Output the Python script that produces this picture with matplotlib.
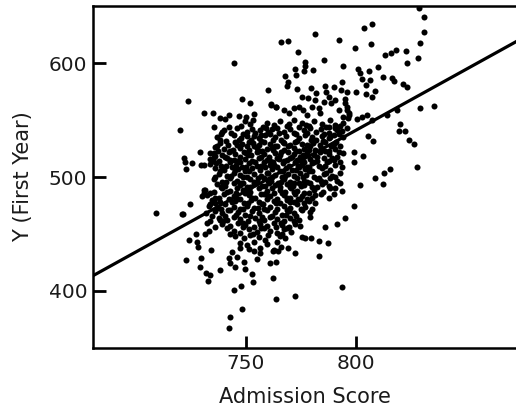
import matplotlib
matplotlib.use("Agg")
import matplotlib.pyplot as plt
import numpy as np

# 바깥쪽(드문) 점들 - (Admission Score, First Year)
outer_pts = [
    (829.0, 648.5), (831.2, 640.5), (831.2, 627.6), (829.4, 617.6), (828.2, 605.0), (823.0, 611.0),
    (823.2, 600.0), (818.3, 611.7), (816.1, 608.8), (813.6, 607.3), (804.0, 631.4), (807.7, 634.3),
    (807.0, 616.7), (799.7, 613.8), (792.3, 620.8), (781.7, 625.5), (769.2, 620.0), (766.0, 618.5),
    (773.6, 609.7), (744.8, 600.6), (785.5, 603.2), (794.2, 598.0), (800.9, 595.0), (806.2, 593.5),
    (810.4, 597.0), (776.8, 601.2), (777.0, 597.4), (776.4, 593.0), (772.6, 594.7), (772.9, 589.7),
    (780.5, 594.0), (768.0, 589.0), (801.8, 591.7), (802.9, 586.2), (806.8, 585.3), (812.4, 587.7),
    (816.8, 586.8), (817.3, 584.8), (821.4, 581.8), (823.3, 578.9), (769.4, 584.0), (768.8, 580.0),
    (773.5, 577.7), (779.7, 578.6), (786.2, 580.0), (786.5, 575.0), (790.0, 578.9), (793.3, 576.5),
    (793.8, 583.6), (796.1, 575.0), (800.2, 575.0), (804.7, 573.3), (809.0, 575.7), (807.4, 570.7),
    (804.9, 580.9), (760.0, 577.0), (835.6, 562.5), (829.1, 560.4), (818.8, 559.0), (814.2, 554.5),
    (723.8, 566.6), (748.3, 568.3), (751.8, 565.0), (761.4, 563.8), (763.9, 561.7),
    (795.2, 568.6), (796.0, 561.3), (797.1, 556.6), (796.7, 551.6), (794.5, 553.0), (793.0, 545.0),
    (793.8, 540.5), (790.8, 542.8), (787.7, 544.3), (788.5, 535.5), (805.3, 555.0), (802.9, 552.5),
    (807.4, 550.0), (800.6, 550.7), (805.6, 536.0), (807.9, 532.0), (820.3, 546.6), (819.9, 540.5),
    (822.6, 540.8), (824.5, 532.6), (826.7, 529.0), (828.0, 509.0), (815.9, 507.0), (812.9, 503.2),
    (812.4, 493.5), (808.8, 498.8), (803.6, 518.5), (799.4, 522.3), (799.4, 512.9), (802.1, 493.0),
    (799.1, 474.8), (795.3, 464.2), (791.5, 458.6), (793.8, 403.2),
    (786.2, 455.7), (783.2, 444.0), (787.3, 441.6), (783.2, 430.5), (779.7, 446.0), (777.1, 446.1),
    (775.6, 446.9), (772.6, 432.8), (772.3, 395.3), (769.2, 437.8), (766.2, 438.7), (764.7, 435.2),
    (762.5, 435.2), (763.9, 424.9), (760.9, 424.0), (762.3, 411.4), (763.9, 393.0), (756.4, 432.8),
    (755.2, 428.2), (752.9, 415.0), (753.3, 407.9), (747.9, 404.1), (744.5, 400.3), (748.2, 383.6),
    (742.7, 377.3), (742.3, 366.9), (747.3, 437.2), (746.2, 429.3), (749.1, 425.5), (749.5, 418.8),
    (745.2, 421.0), (742.4, 428.4), (742.7, 424.0), (744.0, 434.0),
    (738.5, 418.2), (734.2, 435.8), (733.6, 413.5), (732.7, 408.5), (731.8, 415.2), (729.4, 421.1),
    (729.8, 428.4), (728.2, 438.1), (728.0, 442.8), (727.6, 449.6), (724.2, 444.6), (722.7, 426.7),
    (731.7, 449.6), (733.3, 452.5), (732.4, 459.3), (733.9, 461.6), (709.1, 468.6), (721.0, 467.2),
    (721.5, 467.5), (724.8, 476.5), (720.3, 541.3), (721.8, 516.4), (722.3, 513.5), (723.0, 507.0),
    (725.6, 512.0), (729.1, 522.3), (731.2, 556.0), (735.0, 556.6), (731.7, 488.6), (730.2, 483.6),
    (731.2, 510.6), (733.9, 511.1), (735.9, 518.8), (735.5, 544.3), (738.5, 551.6), (740.6, 550.7),
    (742.4, 554.5), (746.8, 553.7), (750.2, 552.5), (753.9, 555.4),
]

# 위쪽 중간 영역
upper_pts = [
    (761.5, 563.9), (763.9, 561.9), (767.6, 558.9), (769.5, 556.6), (771.8, 560.4), (774.1, 561.9),
    (776.1, 558.9), (777.9, 554.5), (780.2, 561.9), (781.7, 567.7), (783.2, 560.4), (783.9, 556.0),
    (785.8, 566.3), (787.7, 570.7), (788.8, 564.8), (790.8, 567.7), (792.3, 558.9), (795.3, 564.8),
    (796.1, 558.9), (796.8, 554.5), (778.2, 569.2), (775.6, 570.7), (782.1, 574.2),
    (739.2, 539.9), (738.5, 532.6), (736.2, 526.7), (733.6, 521.4), (735.5, 517.9), (729.8, 510.6),
    (730.9, 485.6), (733.6, 476.2), (732.1, 468.0), (734.7, 465.7), (736.2, 456.3), (738.5, 462.2),
]

# 가운데 빽빽한 영역
core_pts = [
    (749.5, 549), (751.8, 547), (753.3, 550), (759.7, 548), (762.7, 546), (765.5, 549), (769.5, 547),
    (772.1, 550), (775.6, 548), (777.6, 546), (780.9, 549), (784.7, 547), (788.5, 550), (790.5, 546),
    (794.2, 548),
    (740.3, 541), (746.1, 543), (750.6, 540), (752.9, 542), (754.1, 539), (756.4, 541), (759.2, 543),
    (760.2, 540), (762.0, 542), (767.3, 540), (770.0, 542), (771.8, 539), (776.4, 541), (779.4, 543),
    (782.1, 540), (784.2, 542), (787.7, 539), (791.5, 541), (796.1, 543),
    (737.0, 535), (744.5, 537), (748.0, 534), (750.6, 536), (752.4, 533), (753.6, 536), (755.9, 534),
    (758.9, 537), (763.5, 535), (766.1, 533), (768.5, 536), (774.1, 534), (777.1, 537), (780.2, 535),
    (782.0, 533), (784.7, 536), (787.7, 534), (790.0, 537), (794.5, 535),
    (738.5, 530), (741.8, 528), (745.0, 531), (748.3, 529), (750.6, 527), (753.2, 530), (755.9, 528),
    (758.2, 531), (760.9, 529), (763.5, 527), (767.6, 530), (770.3, 528), (772.6, 531), (775.6, 529),
    (778.6, 527), (780.5, 530), (783.9, 528), (786.2, 531), (790.0, 529), (793.0, 527),
    (740.0, 525), (743.0, 523), (747.6, 526), (751.4, 524), (755.2, 526), (757.4, 523), (759.7, 525),
    (764.2, 527), (767.3, 524), (771.8, 526), (774.1, 523), (776.7, 525), (779.4, 527), (781.7, 524),
    (784.2, 526), (787.7, 523), (790.8, 525),
    (735.5, 521), (739.2, 519), (742.3, 522), (745.3, 520), (747.6, 518), (750.3, 521), (752.4, 519),
    (755.2, 522), (758.2, 520), (760.5, 518), (763.5, 521), (765.8, 519), (769.1, 522), (771.8, 520),
    (774.8, 518), (777.9, 521), (780.9, 519), (783.9, 522), (787.7, 520), (791.5, 518), (794.5, 521),
    (733.9, 516), (737.7, 514), (741.5, 517), (744.5, 515), (747.3, 513), (749.8, 516), (752.9, 514),
    (755.9, 517), (759.7, 515), (762.4, 513), (765.0, 516), (767.6, 514), (770.3, 517), (773.3, 515),
    (776.4, 513), (779.1, 516), (782.4, 514), (785.5, 517), (790.0, 515), (793.0, 513),
    (736.7, 512), (738.8, 510), (743.0, 513), (745.8, 511), (748.3, 509), (751.4, 512), (755.2, 510),
    (758.2, 513), (761.2, 511), (764.2, 509), (767.0, 512), (769.5, 510), (772.6, 513), (775.6, 511),
    (777.9, 509), (780.2, 512), (783.2, 510), (787.0, 513), (790.5, 511), (793.8, 509),
    (736.2, 508), (740.0, 506), (743.8, 509), (746.4, 507), (749.8, 505), (752.9, 508), (756.7, 506),
    (758.9, 509), (762.0, 507), (765.5, 505), (768.5, 508), (771.1, 506), (774.1, 509), (777.1, 507),
    (780.2, 505), (784.7, 508), (788.5, 506),
    (737.7, 503), (741.5, 501), (744.5, 504), (747.6, 502), (750.6, 500), (753.6, 503), (757.0, 501),
    (759.7, 504), (763.5, 502), (766.5, 500), (769.1, 503), (771.8, 501), (774.8, 504), (777.6, 502),
    (780.9, 500), (785.5, 503), (789.2, 501), (793.0, 504),
    (735.5, 498), (739.2, 496), (743.0, 499), (746.1, 497), (748.8, 495), (751.8, 498), (755.2, 496),
    (758.2, 499), (761.5, 497), (764.5, 495), (767.3, 498), (770.3, 496), (773.3, 499), (776.4, 497),
    (779.4, 495), (782.4, 498), (786.2, 496), (788.5, 499), (791.5, 497),
    (737.0, 494), (740.8, 492), (744.5, 495), (747.6, 493), (750.6, 491), (753.6, 494), (757.4, 492),
    (760.5, 495), (763.5, 493), (765.8, 491), (768.8, 494), (771.5, 492), (774.1, 495), (776.7, 493),
    (780.2, 491), (784.7, 494), (787.7, 492), (793.0, 495),
    (730.9, 489), (735.5, 487), (739.2, 490), (743.0, 488), (745.8, 486), (748.8, 489), (752.1, 487),
    (755.9, 490), (759.7, 488), (762.7, 486), (765.5, 489), (768.0, 487), (770.6, 490), (773.3, 488),
    (776.4, 486), (780.9, 489), (785.2, 487), (788.5, 490), (793.8, 488),
    (732.4, 484), (736.2, 482), (740.0, 485), (744.5, 483), (747.6, 481), (751.4, 484), (754.4, 482),
    (758.2, 485), (761.2, 483), (764.2, 481), (767.3, 484), (770.3, 482), (772.6, 485), (775.6, 483),
    (777.9, 481), (781.7, 484), (787.7, 482), (790.0, 485),
    (734.7, 480), (738.5, 478), (742.3, 481), (745.3, 479), (749.1, 477), (752.4, 480), (755.9, 478),
    (759.7, 481), (762.7, 479), (765.8, 477), (768.8, 480), (771.8, 478), (774.8, 481), (778.6, 479),
    (781.7, 477),
    (733.2, 475), (737.0, 473), (740.8, 476), (744.5, 474), (747.3, 472), (750.6, 475), (753.6, 473),
    (757.4, 476), (761.2, 474), (764.2, 472), (767.3, 475), (770.3, 473), (773.3, 476), (777.1, 474),
    (780.2, 472),
    (736.2, 470), (739.2, 468), (743.0, 471), (746.4, 469), (749.8, 467), (752.9, 470), (755.9, 468),
    (759.7, 471), (763.5, 469), (766.5, 467), (769.5, 470), (771.8, 468), (775.6, 471), (779.4, 469),
    (737.7, 464), (741.5, 462), (744.5, 465), (747.6, 463), (750.9, 461), (754.4, 464), (758.2, 462),
    (761.2, 465), (764.2, 463), (767.3, 461), (770.3, 464), (774.1, 462), (779.4, 465),
    (739.2, 459), (743.0, 457), (746.4, 460), (749.8, 458), (753.6, 456), (756.7, 459), (759.7, 457),
    (762.7, 460), (766.5, 458), (769.5, 456), (772.6, 459), (774.8, 457),
    (744.5, 453), (747.6, 451), (751.4, 454), (755.2, 452), (758.2, 455), (761.2, 453), (764.2, 451),
    (767.3, 454), (770.6, 452),
    (745.3, 448), (749.1, 446), (752.1, 449), (755.9, 447), (758.9, 445), (765.8, 448), (768.0, 446),
    (747.6, 442), (750.6, 440), (753.6, 443), (759.7, 441), (764.2, 443),
    (751.4, 437), (753.6, 435), (756.7, 438), (762.7, 436),
]

# 가운데 영역 사이사이 점들
core_fill_pts = [
    (742.5, 544), (747.8, 545), (757.8, 544), (764.2, 543), (768.6, 545), (774.5, 544), (779.0, 545),
    (786.4, 544),
    (738.9, 538), (743.4, 539), (749.0, 538), (757.1, 537), (761.3, 538), (765.4, 539), (773.0, 538),
    (778.0, 539), (785.8, 538), (792.6, 538),
    (741.2, 532), (747.0, 533), (751.5, 531), (757.2, 532), (762.3, 533), (766.8, 531), (773.4, 532),
    (779.6, 533), (785.1, 532), (791.3, 531),
    (736.8, 527), (745.9, 528), (753.9, 527), (761.9, 526), (769.2, 527), (777.9, 528), (789.0, 527),
    (737.6, 523), (744.3, 524), (749.2, 522), (756.3, 523), (762.6, 524), (766.3, 522), (772.7, 523),
    (778.9, 524), (786.1, 523), (792.4, 522),
    (740.6, 518), (751.1, 519), (757.1, 518), (764.4, 517), (771.0, 518), (776.0, 519), (782.6, 518),
    (789.4, 517),
    (735.0, 514), (743.0, 515), (746.0, 514), (754.3, 513), (761.0, 514), (768.9, 515), (775.1, 514),
    (781.0, 513), (788.1, 514),
    (740.9, 510), (750.0, 509), (757.0, 510), (763.0, 511), (773.9, 510), (779.0, 509), (785.9, 510),
    (738.3, 505), (745.2, 506), (751.5, 505), (760.3, 504), (767.0, 505), (773.0, 506), (779.0, 505),
    (786.5, 504),
    (735.9, 500), (743.2, 501), (748.9, 500), (755.8, 499), (762.0, 500), (768.1, 501), (776.0, 500),
    (783.4, 499), (790.8, 500),
    (741.2, 496), (747.8, 495), (753.7, 496), (760.0, 497), (765.9, 496), (772.0, 495), (778.1, 496),
    (784.2, 497),
    (738.6, 491), (745.9, 490), (752.1, 491), (758.8, 492), (762.1, 490), (770.0, 491), (775.1, 492),
    (782.6, 491), (790.8, 490),
    (733.9, 486), (741.7, 487), (749.8, 486), (757.0, 485), (766.4, 486), (771.9, 487), (778.8, 486),
    (784.2, 485),
    (738.1, 482), (746.0, 481), (752.8, 482), (760.0, 483), (768.9, 482), (774.0, 481), (780.0, 482),
    (735.9, 477), (743.6, 478), (751.0, 477), (757.8, 476), (763.8, 477), (770.0, 478), (776.6, 477),
    (738.6, 472), (742.1, 471), (748.8, 472), (755.4, 473), (758.4, 472), (768.9, 471), (775.4, 472),
    (740.8, 466), (745.5, 467), (751.8, 466), (757.4, 465), (762.1, 466), (768.2, 467), (773.0, 466),
    (739.8, 461), (748.9, 460), (756.0, 461), (765.9, 460), (772.1, 461),
    (741.6, 455), (748.9, 456), (756.9, 455), (763.9, 456), (768.6, 455),
    (743.1, 450), (753.5, 450), (760.2, 449), (766.6, 450),
]

all_pts = np.array(outer_pts + upper_pts + core_pts + core_fill_pts)
admission = all_pts[:, 0]
first_year = all_pts[:, 1]

# 회귀선
line_x = [680.5, 873.0]
line_y = [413.2, 619.1]

x_ticks = [750, 800]
y_ticks = [400, 500, 600]

fig = plt.figure(figsize=(5.16, 4.09), dpi=100)
ax = fig.add_axes([0.180, 0.149, 0.82, 0.836])

ax.scatter(admission, first_year, s=19, c='black', linewidths=0, zorder=2)
ax.plot(line_x, line_y, color='black', lw=2.3, zorder=3)

ax.set_xlim(680.5, 873.0)
ax.set_ylim(349.6, 650.4)
ax.set_xticks(x_ticks)
ax.set_yticks(y_ticks)

for side in ['left', 'bottom', 'top']:
    ax.spines[side].set_linewidth(1.8)
    ax.spines[side].set_color('black')
ax.spines['right'].set_visible(False)

ax.tick_params(direction='in', length=9, width=2, labelsize=14.5, pad=4, colors='black',
               labelcolor='#1a1a1a')
ax.set_xlabel('Admission Score', fontsize=15, color='#1a1a1a', labelpad=10)
ax.set_ylabel('Y (First Year)', fontsize=15, color='#1a1a1a', labelpad=11)

fig.savefig('out.png', dpi=100)
